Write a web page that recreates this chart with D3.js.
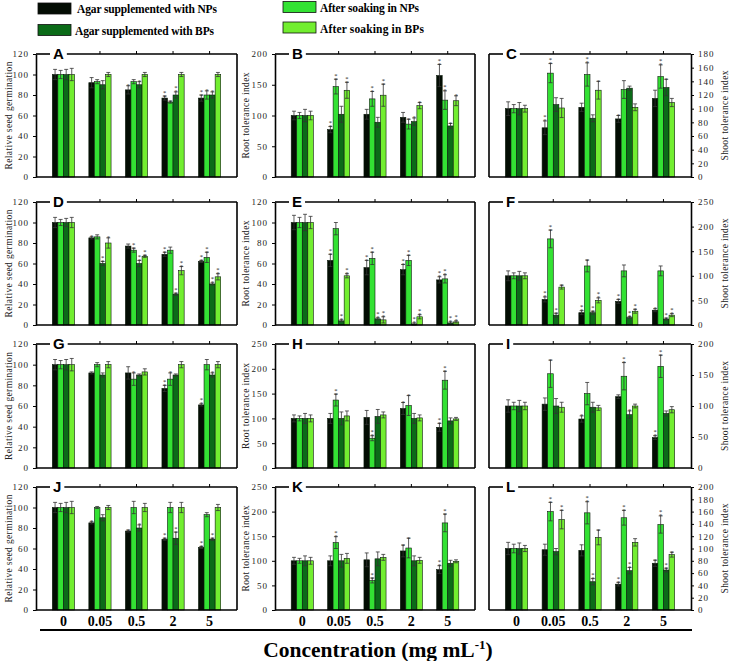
<!DOCTYPE html>
<html lang="en">
<head>
<meta charset="UTF-8">
<title>Germination and tolerance indices</title>
<script src="https://d3js.org/d3.v7.min.js"></script>
<style>
    body { margin: 0; background: #fff; }
    svg { display: block; }
    .tick text { font-family: "Liberation Serif", serif; font-size: 9px; letter-spacing: 1px; fill: #222; }
    .ylab { font-family: "Liberation Serif", serif; font-size: 9.5px; fill: #222; }
    .legend text { font-family: "Liberation Serif", serif; font-weight: bold; font-size: 11.5px; }
    .letter { font-family: "Liberation Sans", Arial, sans-serif; font-weight: bold; font-size: 15px; }
    .cat { font-family: "Liberation Serif", serif; font-weight: bold; font-size: 14px; }
    .star { font-family: "Liberation Serif", serif; font-size: 6.5px; fill: #222; }
</style>
</head>
<body>
<svg width="730" height="661"></svg>
<script>
// concentrations (mg mL-1)
const concs = ["0", "0.05", "0.5", "2", "5"];
// bar order inside each group
const seriesNames = ["Agar supplemented with NPs", "After soaking in NPs",
                     "Agar supplemented with BPs", "After soaking in BPs"];
const seriesColors = ["#030d03", "#33e233", "#0b6b18", "#72ee30"];
const yTitles = ["Relative seed germination", "Root tolerance index", "Shoot tolerance index"];

// values per concentration: [agar NPs, soaking NPs, agar BPs, soaking BPs]
const valA = [[100,100,100,100],[92,93,90,100],[85,93,90,100],[77,73,80,100],[77,80,80,100]];
const errA = [[5,4,5,6],[5,2,4,2],[4,2,3,2],[2,1,3,2],[3,4,3,2]];
const starA = [[0,0,0,0],[0,0,0,0],[1,0,1,0],[2,1,2,0],[2,1,1,0]];

const valB = [[100,100,100,100],[77,147,102,141],[102,127,89,133],[97,86,90,116],[165,125,83,124]];
const errB = [[7,5,10,7],[5,12,13,13],[8,12,8,18],[8,8,6,5],[18,15,4,8]];
const starB = [[0,0,0,0],[2,2,0,2],[0,2,0,2],[0,1,1,1],[2,2,1,1]];

const valC = [[100,100,100,100],[72,152,106,101],[102,150,86,127],[85,128,130,102],[115,147,131,109]];
const errC = [[10,6,9,5],[10,14,10,14],[6,17,5,13],[5,13,3,5],[12,17,12,6]];
const starC = [[0,0,0,0],[2,2,0,0],[0,2,0,1],[1,0,0,0],[0,2,1,0]];

const valD = [[100,100,100,100],[85,86,60,80],[77,73,60,67],[69,73,30,53],[62,66,40,47]];
const errD = [[5,3,4,5],[1,2,2,5],[2,2,3,1],[2,3,1,4],[1,5,1,3]];
const starD = [[0,0,0,0],[1,0,2,1],[0,2,2,2],[2,0,2,2],[2,2,2,2]];

const valE = [[100,100,100,100],[63,94,4,48],[56,65,6,5],[54,63,1,8],[44,45,2,3]];
const errE = [[7,5,8,6],[6,6,1,2],[7,6,1,3],[5,5,1,2],[3,4,1,1]];
const starE = [[0,0,0,0],[2,0,2,2],[2,2,2,2],[2,2,2,2],[2,2,2,2]];

const valF = [[100,100,100,100],[52,175,20,77],[25,120,25,50],[48,110,15,28],[30,110,12,20]];
const errF = [[10,6,9,6],[5,18,4,4],[4,12,3,5],[4,12,2,4],[3,10,2,3]];
const starF = [[0,0,0,0],[2,2,2,1],[2,1,2,2],[2,0,2,2],[1,0,2,2]];

const valG = [[100,100,100,100],[92,100,90,100],[92,86,90,93],[77,86,90,100],[61,100,90,100]];
const errG = [[5,4,5,6],[1,2,2,3],[6,6,1,3],[3,6,1,3],[1,5,2,3]];
const starG = [[0,0,0,0],[0,0,0,0],[0,1,0,0],[2,1,0,0],[2,0,1,0]];

const valH = [[100,100,100,100],[100,137,100,105],[102,60,104,107],[120,126,100,101],[82,177,95,99]];
const errH = [[7,5,10,7],[10,12,13,10],[14,5,14,6],[12,20,10,6],[8,18,6,3]];
const starH = [[0,0,0,0],[0,2,0,0],[0,2,0,0],[1,1,0,0],[2,2,0,0]];

const valI = [[100,100,100,100],[103,152,100,98],[79,120,98,97],[115,148,86,100],[49,164,88,94]];
const errI = [[10,6,9,6],[10,22,12,8],[5,18,8,4],[3,22,6,3],[3,18,4,5]];
const starI = [[0,0,0,0],[0,1,0,0],[1,0,0,0],[0,2,1,0],[2,2,0,0]];

const valJ = [[100,100,100,100],[85,100,90,100],[77,100,80,100],[69,100,70,100],[61,93,69,100]];
const errJ = [[5,4,5,6],[1,1,3,2],[1,6,3,4],[1,5,6,5],[1,2,1,3]];
const starJ = [[0,0,0,0],[1,0,0,0],[1,0,1,0],[2,0,2,0],[2,0,2,0]];

const valK = [[100,100,100,100],[100,137,100,105],[102,60,104,107],[120,126,100,101],[82,177,95,99]];
const errK = [[7,5,10,7],[10,12,13,10],[14,5,14,6],[12,20,10,6],[8,18,6,3]];
const starK = [[0,0,0,0],[0,2,0,0],[0,2,0,0],[1,1,0,0],[2,2,0,0]];

const valL = [[100,100,100,100],[98,160,95,147],[97,158,46,118],[42,150,64,110],[76,139,65,90]];
const errL = [[10,7,9,5],[9,15,5,15],[9,18,5,12],[3,12,5,6],[5,14,3,4]];
const starL = [[0,0,0,0],[0,2,0,2],[0,2,2,1],[2,2,2,0],[1,2,2,1]];

const panels = [
    { id: "A", vals: valA, errs: errA, stars: starA, max: 120, step: 20 },
    { id: "B", vals: valB, errs: errB, stars: starB, max: 200, step: 50 },
    { id: "C", vals: valC, errs: errC, stars: starC, max: 180, step: 20 },
    { id: "D", vals: valD, errs: errD, stars: starD, max: 120, step: 20 },
    { id: "E", vals: valE, errs: errE, stars: starE, max: 120, step: 20 },
    { id: "F", vals: valF, errs: errF, stars: starF, max: 250, step: 50 },
    { id: "G", vals: valG, errs: errG, stars: starG, max: 120, step: 20 },
    { id: "H", vals: valH, errs: errH, stars: starH, max: 250, step: 50 },
    { id: "I", vals: valI, errs: errI, stars: starI, max: 200, step: 50 },
    { id: "J", vals: valJ, errs: errJ, stars: starJ, max: 120, step: 20 },
    { id: "K", vals: valK, errs: errK, stars: starK, max: 250, step: 50 },
    { id: "L", vals: valL, errs: errL, stars: starL, max: 200, step: 20 }
];

// layout
const cols = [
    { l: 36, r: 237, side: "left", titleX: 9, titleLen: 108 },
    { l: 275, r: 475, side: "left", titleX: 246, titleLen: 86 },
    { l: 489, r: 691, side: "right", titleX: 725, titleLen: 90 }
];
const rows = [{ t: 54, b: 177 }, { t: 202, b: 325 }, { t: 344, b: 468 }, { t: 487, b: 610 }];

const svg = d3.select("svg");

panels.forEach((p, k) => {
    const c = cols[k % 3], r = rows[Math.floor(k / 3)];
    const x = d3.scalePoint().domain(concs).range([c.l, c.r]).padding(0.75);
    const y = d3.scaleLinear().domain([0, p.max]).range([r.b, r.t]);
    const bw = x.step() * 0.152;
    const g = svg.append("g");

    const bars = p.vals.flatMap((grp, gi) => grp.map((v, si) => ({
        c: concs[gi], si: si, v: v, e: p.errs[gi][si], s: p.stars[gi][si]
    })));
    const bx = d => x(d.c) + (d.si - 2) * bw;

    g.selectAll(".bar").data(bars).join("rect")
        .attr("class", "bar")
        .attr("x", bx)
        .attr("y", d => y(d.v))
        .attr("width", bw)
        .attr("height", d => y(0) - y(d.v))
        .attr("fill", d => seriesColors[d.si])
        .attr("stroke", "#0a1a0a")
        .attr("stroke-width", 0.6);

    // error bars
    const eb = g.selectAll(".err").data(bars).join("g").attr("class", "err")
        .attr("stroke", "#333").attr("stroke-width", 0.8);
    eb.append("line")
        .attr("x1", d => bx(d) + bw / 2).attr("x2", d => bx(d) + bw / 2)
        .attr("y1", d => y(d.v - d.e)).attr("y2", d => y(d.v + d.e));
    eb.append("line")
        .attr("x1", d => bx(d) + 0.8).attr("x2", d => bx(d) + bw - 0.8)
        .attr("y1", d => y(d.v + d.e)).attr("y2", d => y(d.v + d.e));
    eb.append("line")
        .attr("x1", d => bx(d) + 0.8).attr("x2", d => bx(d) + bw - 0.8)
        .attr("y1", d => y(d.v - d.e)).attr("y2", d => y(d.v - d.e));

    // significance stars, stacked in one text element per bar
    const st = g.selectAll(".star").data(bars.filter(d => d.s > 0)).join("text")
        .attr("class", "star")
        .attr("text-anchor", "middle");
    st.each(function (d) {
        const t = d3.select(this);
        const sx = bx(d) + bw / 2;
        d3.range(d.s).forEach(j => {
            t.append("tspan")
                .attr("x", sx)
                .attr("y", y(d.v + d.e) + 2.5 - j * 4)
                .text("*");
        });
    });

    // value axis
    const axis = (c.side === "left" ? d3.axisLeft(y) : d3.axisRight(y))
        .tickValues(d3.range(0, p.max + 1, p.step))
        .tickSize(3).tickSizeOuter(0).tickPadding(4);
    const ax = g.append("g")
        .attr("transform", `translate(${c.side === "left" ? c.l : c.r},0)`)
        .call(axis);
    ax.select(".domain").attr("stroke", "#000").attr("stroke-width", 1.6);
    ax.selectAll(".tick line").attr("stroke", "#000");

    // frame: bottom, opposite side, top with letter gap
    g.append("line").attr("x1", c.l).attr("x2", c.r).attr("y1", r.b).attr("y2", r.b)
        .attr("stroke", "#000").attr("stroke-width", 1.6);
    const ox = c.side === "left" ? c.r : c.l;
    g.append("line").attr("x1", ox).attr("x2", ox).attr("y1", r.t).attr("y2", r.b)
        .attr("stroke", "#000").attr("stroke-width", 1.6);

    const letter = g.append("text").attr("class", "letter")
        .attr("x", c.l + 17).attr("y", r.t).attr("dy", "0.36em").text(p.id);
    const lw = letter.node().getComputedTextLength();
    g.append("line").attr("x1", c.l).attr("x2", c.l + 14).attr("y1", r.t).attr("y2", r.t)
        .attr("stroke", "#000").attr("stroke-width", 1.6);
    g.append("line").attr("x1", c.l + 20 + lw).attr("x2", c.r).attr("y1", r.t).attr("y2", r.t)
        .attr("stroke", "#000").attr("stroke-width", 1.6);
    g.selectAll(".topTick").data(concs.slice(1)).join("line")
        .attr("x1", d => x(d)).attr("x2", d => x(d))
        .attr("y1", r.t).attr("y2", r.t - 3)
        .attr("stroke", "#000").attr("stroke-width", 1);

    // y title
    const cy = (r.t + r.b) / 2;
    g.append("text").attr("class", "ylab")
        .attr("transform", `translate(${c.titleX},${cy}) rotate(-90)`)
        .attr("text-anchor", "middle").attr("dy", "0.35em")
        .attr("textLength", c.titleLen).attr("lengthAdjust", "spacing")
        .text(yTitles[k % 3]);

    // category labels under the last row
    if (Math.floor(k / 3) === rows.length - 1) {
        g.selectAll(".cat").data(concs).join("text")
            .attr("class", "cat")
            .attr("x", d => x(d)).attr("y", r.b + 16)
            .attr("text-anchor", "middle")
            .text(d => d);
    }
});

// baseline rule and x title
svg.append("line").attr("x1", 40).attr("x2", 692).attr("y1", 630).attr("y2", 630)
    .attr("stroke", "#000").attr("stroke-width", 2);
const xt = svg.append("text")
    .attr("x", 378).attr("y", 657)
    .attr("text-anchor", "middle")
    .style("font-family", "'Liberation Serif', serif")
    .style("font-weight", "bold").style("font-size", "21.5px");
xt.append("tspan").text("Concentration (mg mL");
xt.append("tspan").attr("dy", -8).style("font-size", "13px").text("-1");
xt.append("tspan").attr("dy", 8).text(")");

// legend
const legendPos = [
    { x: 38, y: 3, tx: 77, ty: 12.5, tl: 140 },
    { x: 283, y: 1.5, tx: 320, ty: 11.5, tl: 99 },
    { x: 38, y: 24.5, tx: 75, ty: 35, tl: 139 },
    { x: 283, y: 22, tx: 320, ty: 32.5, tl: 104 }
];
const lg = svg.append("g").attr("class", "legend");
seriesNames.forEach((name, si) => {
    const pos = legendPos[si];
    lg.append("rect").attr("x", pos.x).attr("y", pos.y).attr("width", 33).attr("height", 11)
        .attr("fill", seriesColors[si]).attr("stroke", "#111").attr("stroke-width", 0.8);
    lg.append("text").attr("x", pos.tx).attr("y", pos.ty)
        .attr("textLength", pos.tl).attr("lengthAdjust", "spacing")
        .text(name);
});
</script>
</body>
</html>
